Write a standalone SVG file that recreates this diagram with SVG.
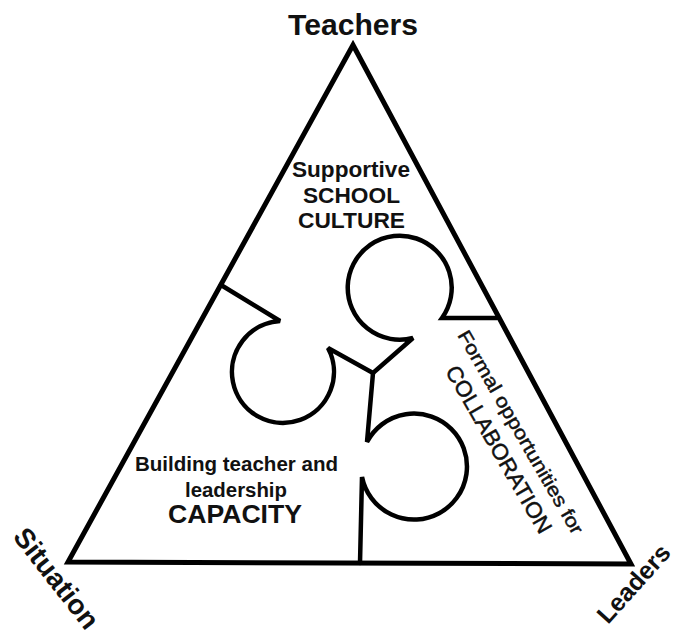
<svg xmlns="http://www.w3.org/2000/svg" width="679" height="635" viewBox="0 0 679 635">
  <style>
    .edge { fill: none; stroke: #000; stroke-width: 5; stroke-linejoin: miter; stroke-miterlimit: 10; }
    .piece { fill: none; stroke: #000; stroke-width: 4.5; stroke-linejoin: miter; stroke-miterlimit: 3; stroke-linecap: round; }
    text { font-family: "Liberation Sans", Arial, sans-serif; fill: #111; }
    .b { font-weight: bold; }
    .r { stroke: #111; stroke-width: 0.45; }
  </style>
  <rect width="679" height="635" fill="#fff"/>
  <g id="triangle">
    <path class="edge" d="M353,45 L631,564 L68,562 Z"/>
  </g>
  <g id="connectors">
    <path class="piece" d="M221,285 L280,321 A51,51 0 1 0 328,348 L373,373 L413,338 A52,52 0 1 1 442,318 L497,318"/>
    <path class="piece" d="M373,373 L367,442 A53,53 0 1 1 362,477 L360,563"/>
  </g>
  <g id="teachers">
    <text class="b" x="353" y="35" font-size="29" text-anchor="middle" textLength="130" lengthAdjust="spacingAndGlyphs">Teachers</text>
  </g>
  <g id="culture">
    <text class="b" x="351" y="177" font-size="22" text-anchor="middle" textLength="118" lengthAdjust="spacingAndGlyphs">Supportive</text>
    <text class="b" x="351.5" y="203" font-size="22" text-anchor="middle" textLength="97" lengthAdjust="spacingAndGlyphs">SCHOOL</text>
    <text class="b" x="351.5" y="227.5" font-size="22" text-anchor="middle" textLength="107" lengthAdjust="spacingAndGlyphs">CULTURE</text>
  </g>
  <g id="capacity">
    <text class="b" x="236.5" y="471" font-size="20" text-anchor="middle" textLength="203" lengthAdjust="spacingAndGlyphs">Building teacher and</text>
    <text class="b" x="236" y="497" font-size="20" text-anchor="middle" textLength="102" lengthAdjust="spacingAndGlyphs">leadership</text>
    <text class="b" x="235" y="523" font-size="25" text-anchor="middle" textLength="134" lengthAdjust="spacingAndGlyphs">CAPACITY</text>
  </g>
  <g id="collaboration" transform="translate(457,335) rotate(60)">
    <text class="r" x="0" y="0" font-size="19" textLength="232" lengthAdjust="spacingAndGlyphs">Formal opportunities for</text>
    <text class="r" x="25" y="28.5" font-size="22" textLength="190" lengthAdjust="spacingAndGlyphs">COLLABORATION</text>
  </g>
  <g id="situation" transform="translate(12,537) rotate(52)">
    <text class="b" x="0" y="0" font-size="28">Situation</text>
  </g>
  <g id="leaders" transform="translate(608,625) rotate(-48)">
    <text class="b" x="0" y="0" font-size="25">Leaders</text>
  </g>
</svg>
